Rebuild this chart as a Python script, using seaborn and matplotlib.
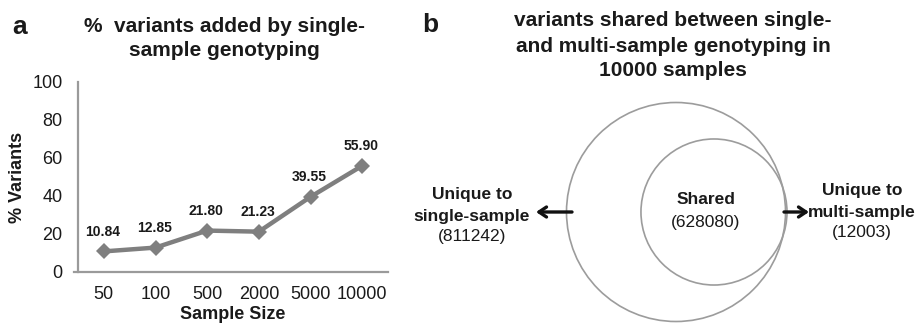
import numpy as np
import pandas as pd
import matplotlib
matplotlib.use("Agg")
import matplotlib.pyplot as plt
from matplotlib.patches import Circle
import seaborn as sns

# ---------------- data ----------------
sample_sizes = ["50", "100", "500", "2000", "5000", "10000"]
pct_added = [10.84, 12.85, 21.80, 21.23, 39.55, 55.90]
y_ticks = [0, 20, 40, 60, 80, 100]

venn_unique_single = 811242
venn_shared = 628080
venn_unique_multi = 12003

# ---------------- style ----------------
sns.set_theme(style="white")
plt.rcParams["font.family"] = ["Liberation Sans", "DejaVu Sans"]

W, H = 919, 325
fig = plt.figure(figsize=(W / 100, H / 100), dpi=100)

LINE_GREY = "#7f7f7f"
AXIS_GREY = "#9a9a9a"
TXT = "#1a1a1a"
TITLE_FS = 15


def fx(px):
    return px / W


def fy(py):
    return 1 - py / H


# ---------------- panel a ----------------
ax = fig.add_axes([fx(78), fy(272), fx(388) - fx(78), fy(82) - fy(272)])
df = pd.DataFrame({"size": sample_sizes, "pct": pct_added})
df["pos"] = np.arange(len(df))
sns.lineplot(data=df, x="pos", y="pct", ax=ax, color=LINE_GREY, lw=3.2,
             marker="D", markersize=8.5, markeredgewidth=0, sort=False)
for xi, yi in zip(df["pos"], df["pct"]):
    ax.annotate(f"{yi:.2f}", (xi, yi), xytext=(-1, 9), textcoords="offset points",
                ha="center", va="bottom", fontsize=10, fontweight="bold", color=TXT)
ax.set_xlim(-0.5, len(df) - 0.5)
ax.set_ylim(0, 100)
ax.set_xticks(df["pos"])
ax.set_xticklabels(sample_sizes)
ax.set_yticks(y_ticks)
ax.tick_params(axis="both", length=0, labelsize=13, colors=TXT)
ax.tick_params(axis="y", pad=11)
ax.tick_params(axis="x", pad=10)
for s in ["top", "right"]:
    ax.spines[s].set_visible(False)
for s in ["left", "bottom"]:
    ax.spines[s].set_color(AXIS_GREY)
    ax.spines[s].set_linewidth(1.6)
ax.spines["bottom"].set_bounds(-0.58, len(df) - 0.5)
ax.set_xlabel("Sample Size", fontsize=13, fontweight="bold", color=TXT, labelpad=2)
ax.set_ylabel("% Variants", fontsize=13, fontweight="bold", color=TXT, labelpad=5)
ax.set_facecolor("none")

fig.text(fx(20), fy(27), "a", fontsize=19, fontweight="bold", ha="center", va="center", color=TXT)
fig.text(fx(224), fy(27), "%  variants added by single-", fontsize=TITLE_FS, fontweight="bold",
         ha="center", va="center", color=TXT)
fig.text(fx(224), fy(50), "sample genotyping", fontsize=TITLE_FS, fontweight="bold",
         ha="center", va="center", color=TXT)

# ---------------- panel b (pixel coordinates) ----------------
axb = fig.add_axes([0, 0, 1, 1])
axb.set_xlim(0, W)
axb.set_ylim(H, 0)
axb.axis("off")
axb.set_facecolor("none")

total_single = venn_unique_single + venn_shared
total_multi = venn_shared + venn_unique_multi
R_OUT = 109.5
r_out = R_OUT
r_in = R_OUT * np.sqrt(total_multi / total_single)
cx, cy = 676.0, 212.0
cx_in = cx + (r_out - r_in) + 1.5
axb.add_patch(Circle((cx, cy), r_out, fill=False, ec="#9c9c9c", lw=1.2))
axb.add_patch(Circle((cx_in, cy), r_in, fill=False, ec="#9c9c9c", lw=1.2))

fig.text(fx(430), fy(25), "b", fontsize=19, fontweight="bold", ha="center", va="center", color=TXT)
for txt, y in [("variants shared between single-", 21),
               ("and multi-sample genotyping in", 46),
               ("10000 samples", 71)]:
    fig.text(fx(673), fy(y), txt, fontsize=TITLE_FS, fontweight="bold", ha="center", va="center", color=TXT)

FS = 12.5
axb.text(472, 195, "Unique to", fontsize=FS, fontweight="bold", ha="center", va="center", color=TXT)
axb.text(472, 216, "single-sample", fontsize=FS, fontweight="bold", ha="center", va="center", color=TXT)
axb.text(472, 237, f"({venn_unique_single})", fontsize=FS, ha="center", va="center", color=TXT)

axb.text(706, 200, "Shared", fontsize=FS, fontweight="bold", ha="center", va="center", color=TXT)
axb.text(706, 223, f"({venn_shared})", fontsize=FS, ha="center", va="center", color=TXT)

axb.text(862, 191, "Unique to", fontsize=FS, fontweight="bold", ha="center", va="center", color=TXT)
axb.text(862, 212, "multi-sample", fontsize=FS, fontweight="bold", ha="center", va="center", color=TXT)
axb.text(862, 233, f"({venn_unique_multi})", fontsize=FS, ha="center", va="center", color=TXT)

arrow_kw = dict(arrowstyle="->,head_length=0.45,head_width=0.3", color="#111111", lw=2.4,
                shrinkA=0, shrinkB=0)
axb.annotate("", xy=(536, 212), xytext=(572, 212), arrowprops=arrow_kw)
axb.annotate("", xy=(809, 212), xytext=(784, 212), arrowprops=arrow_kw)

fig.savefig("out.png", dpi=100)
